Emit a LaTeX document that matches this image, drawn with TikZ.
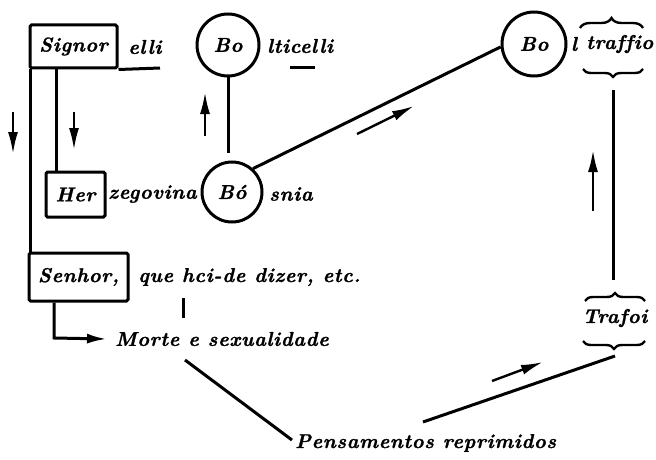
\documentclass[tikz,border=0pt]{standalone}
\usepackage{fontspec}
\usetikzlibrary{arrows.meta,decorations.pathreplacing}
\newfontfamily\bifont{lmroman10-bolditalic.otf}[LetterSpace=3, Ligatures=NoCommon, FakeBold=1.2]
\newcommand\ff{\bifont\fontsize{20}{23}\selectfont}
\tikzset{
  every node/.style={font=\ff, inner sep=0pt},
  ln/.style={line width=3pt},
  boxn/.style={draw, line width=3pt, rounded corners=1.5pt},
  circn/.style={draw, circle, line width=3pt, inner sep=0pt},
  arr/.style={line width=2.4pt, -{Latex[length=22pt,width=10pt]}},
  brc/.style={line width=2.4pt, decorate, decoration={brace, amplitude=8pt}},
}
\begin{document}
\begin{tikzpicture}[x=1pt,y=-1pt]
\useasboundingbox (0,0) rectangle (656,460);
% nodes
\node[boxn, minimum width=87pt, minimum height=43pt] (signor) at (73.5,46.5) {Signor};
\node[anchor=west] (elli) at (128,47) {elli};
\node[circn, minimum size=62pt] (bo1) at (228,45) {Bo};
\node[anchor=west] (ticelli) at (267,46) {lticelli};
\node[circn, minimum size=64pt] (bo3) at (534,44) {Bo};
\node (l) at (574,44) {l};
\node[anchor=west] (traffio) at (586,44) {traffio};
\node[boxn, minimum width=59pt, minimum height=45pt] (her) at (75.5,194.5) {Her};
\node[anchor=west] (zegovina) at (108,194) {zegovina};
\node[circn, minimum size=60pt] (bo2) at (232,192) {Bó};
\node[anchor=west] (snia) at (269,194) {snia};
\node[boxn, minimum width=99pt, minimum height=48pt] (senhor) at (78.5,277) {Senhor,};
\node[anchor=west] (que) at (138,277) {que hci-de dizer, etc.};
\node[anchor=west] (morte) at (115,339) {Morte e sexualidade};
\node[anchor=west] (pens) at (295,443) {Pensamentos reprimidos};
\node (trafoi) at (615,318) {Trafoi};
% coordinates
\coordinate (elliend) at (160,68);
\coordinate (dashA) at (290,68);
\coordinate (dashB) at (315,68);
\coordinate (tb) at (613,90);
\coordinate (tt) at (613,280);
\coordinate (qa) at (183,298);
\coordinate (qb) at (183,318);
\coordinate (ma) at (185,360);
\coordinate (pa) at (292,440);
\coordinate (pb) at (423,422);
\coordinate (tra) at (615,356);
% lines
\draw[ln] (signor.south east) -- (elliend);
\draw[ln] (dashA) -- (dashB);
\draw[ln] ([xshift=2pt]signor.south west) -- ([xshift=2pt]signor.south west |- senhor.north);
\draw[ln] (signor.south -| 56,0) -- (her.north -| 56,0);
\draw[ln, shorten >=8pt] (bo1.south) -- (bo1.south |- bo2.north);
\draw[ln] (bo2.48) -- (bo3.185);
\draw[ln] (tb) -- (tt);
\draw[ln] (qa) -- (qb);
\draw[ln] (ma) -- (pa);
\draw[ln] (pb) -- (tra);
\draw[line width=3pt, -{Latex[length=20pt,width=10pt]}] (senhor.south -| 54,0) -- (54,338) -- ([xshift=-8pt]morte.west);
% braces
\draw[brc, decoration={amplitude=10pt}] (580,28) -- (643,28);
\draw[brc] (643,69) -- (583,69);
\draw[brc] (585,301) -- (645,301);
\draw[brc] (645,341) -- (583,341);
% small arrows
\draw[arr] (13,112) -- (13,154);
\draw[arr] (74,112) -- (74,150);
\draw[arr] (205,136) -- (205,92);
\draw[arr] (357,134) -- (414,106);
\draw[arr] (593,211) -- (593,150);
\draw[arr] (492,381) -- (543,362);
\end{tikzpicture}
\end{document}
